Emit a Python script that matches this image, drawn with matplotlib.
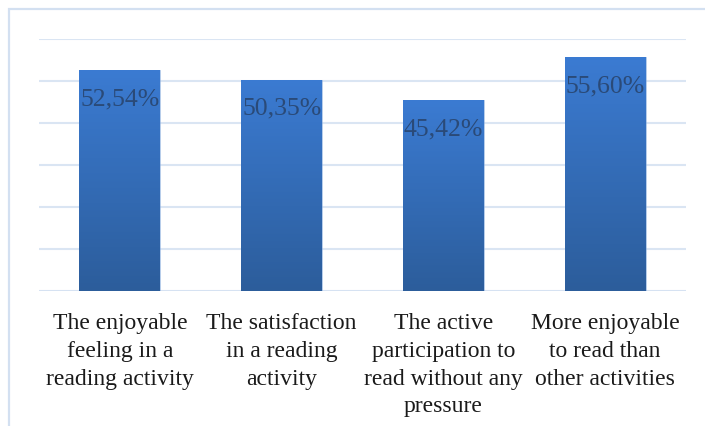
import matplotlib
matplotlib.use("Agg")
import matplotlib.pyplot as plt
import matplotlib.transforms as mtransforms
import numpy as np
from matplotlib.patches import Rectangle
from matplotlib.colors import LinearSegmentedColormap

categories = ["The enjoyable\nfeeling in a\nreading activity",
              "The satisfaction\nin a reading\nactivity",
              "The active\nparticipation to\nread without any\npressure",
              "More enjoyable\nto read than\nother activities"]
values = [52.54, 50.35, 45.42, 55.60]
value_labels = ["52,54%", "50,35%", "45,42%", "55,60%"]

plt.rcParams["font.family"] = ["Liberation Serif", "DejaVu Serif"]

W, H = 705, 427
fig = plt.figure(figsize=(W/100, H/100), dpi=100)
fig.patch.set_facecolor("white")

# outer chart border (extends beyond right/bottom edges)
border = Rectangle((9/W, -0.1), 1.2, 1 - 10/H + 0.1, transform=fig.transFigure,
                   fill=False, edgecolor="#D3E0F1", linewidth=1.6, zorder=0)
fig.add_artist(border)

ax = fig.add_axes([39/W, 1 - 292/H, (686-39)/W, (292-40)/H])
ax.set_xlim(-0.5, 3.5)
ax.set_ylim(0, 60)
ax.set_yticks(np.arange(0, 61, 10))
ax.yaxis.grid(True, color="#DAE5F3", linewidth=1.5)
ax.set_axisbelow(True)
for s in ax.spines.values():
    s.set_visible(False)
ax.tick_params(axis="y", length=0, labelleft=False)
ax.set_xticks(range(len(categories)))
ax.tick_params(axis="x", length=0, labelbottom=False)
ax.axhline(0, color="#D6E2F2", linewidth=2, zorder=1)

trans = mtransforms.blended_transform_factory(ax.transData, ax.transAxes)
for i, c in enumerate(categories):
    ax.text(i, -0.084, c, transform=trans, ha="center", va="top",
            fontsize=17, color="#1a1a1a", linespacing=1.42,
            multialignment="center")

cmap = LinearSegmentedColormap.from_list("g", ["#2C5D9B", "#3B7BD2"])
grad = np.linspace(0, 1, 256).reshape(-1, 1)
bars = ax.bar(range(len(values)), values, width=0.5, color="none",
              edgecolor="#7FA6DA", linewidth=0.4, zorder=2)
for b, v in zip(bars, values):
    x0 = b.get_x(); w = b.get_width()
    im = ax.imshow(grad, cmap=cmap, origin="lower", aspect="auto",
                   extent=(x0, x0 + w, 0, v), zorder=2)
    im.set_clip_path(b)
ax.set_xlim(-0.5, 3.5)
ax.set_ylim(0, 60)

for i, (v, lab) in enumerate(zip(values, value_labels)):
    ax.text(i, v - 6.6, lab, ha="center", va="center", fontsize=18.5,
            color="#2A4A78", zorder=3)

fig.savefig("out.png", dpi=100)
